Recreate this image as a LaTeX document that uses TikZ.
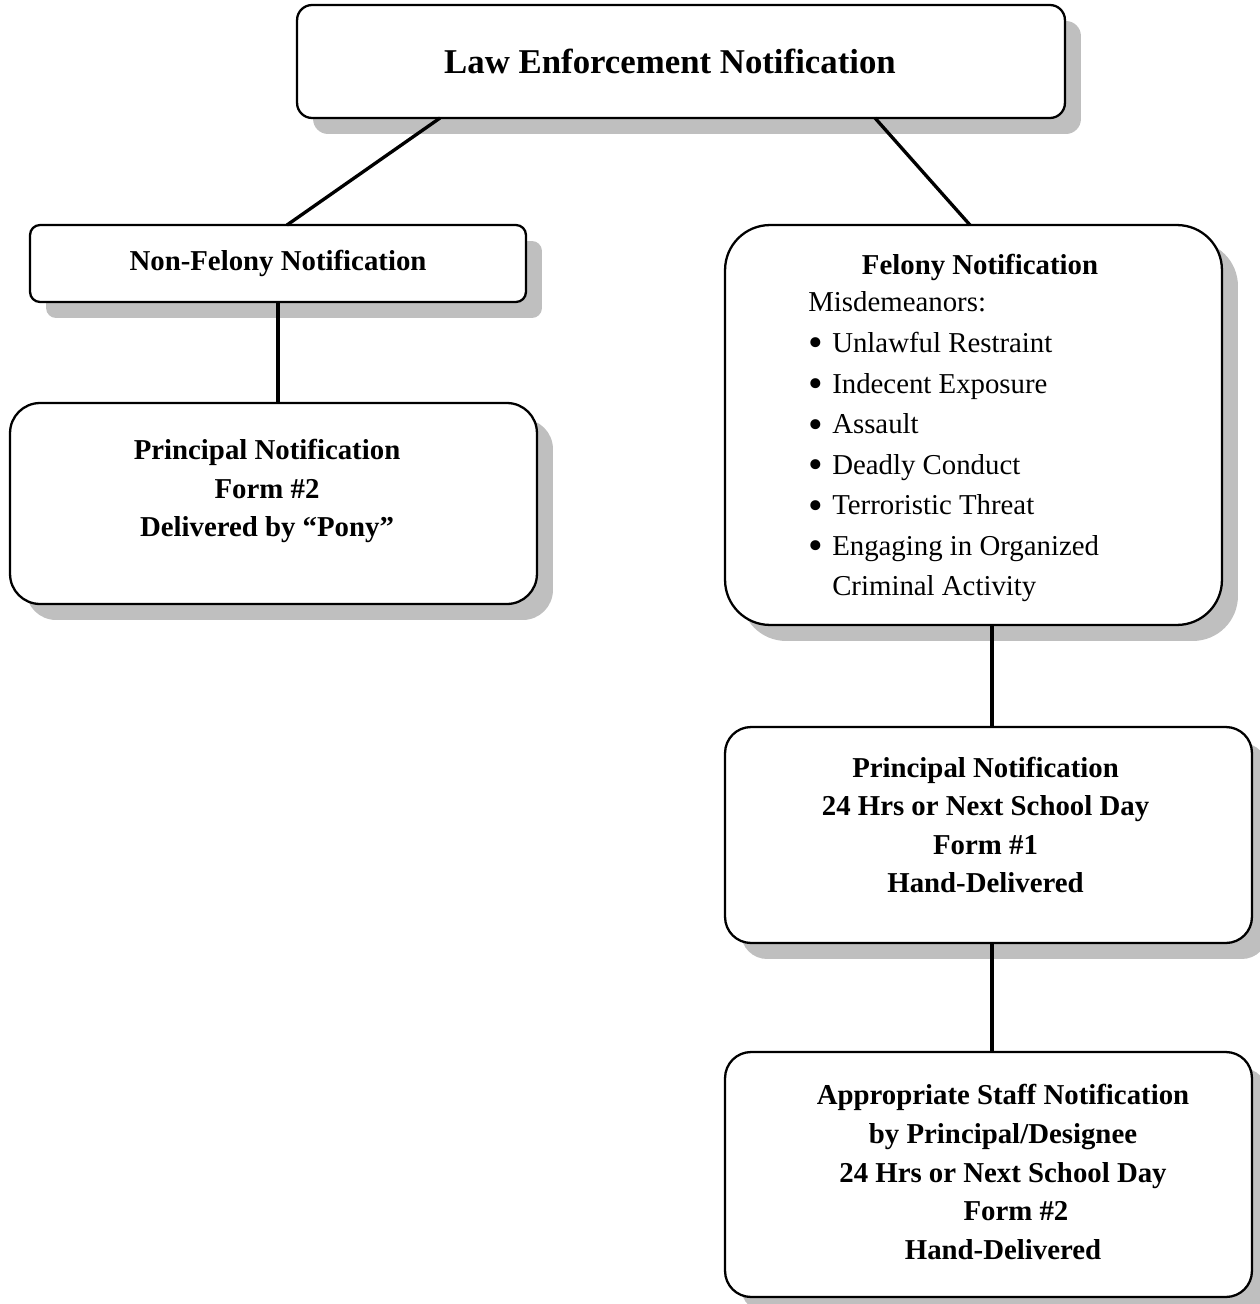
\documentclass[tikz,border=0pt]{standalone}
\usepackage{fontspec}
\setmainfont{Liberation Serif}
\usetikzlibrary{shadows}

\newcommand{\felbullet}{\makebox[13.6pt][l]{\raisebox{-2.6pt}{\scalebox{1.45}{•}}}}

\begin{document}
\begin{tikzpicture}[x=0.02cm, y=-0.02cm,
  notebox/.style={draw, line width=1.3pt, fill=white, inner sep=0pt, outer sep=0pt,
    rounded corners=#1,
    drop shadow={shadow xshift=0.32cm, shadow yshift=-0.32cm, fill=black!25, opacity=1}},
  link/.style={line width=1.9pt},
  boldtxt/.style={align=center, inner sep=0pt, font=\fontsize{16.4}{22}\selectfont\bfseries},
  plaintxt/.style={align=left, inner sep=0pt, font=\fontsize{16.4}{23.1}\selectfont}]
\useasboundingbox (0,0) rectangle (1259,1304);

% ---- top of the tree -----------------------------------------------------
\node[notebox=0.3cm, minimum width=15.36cm, minimum height=2.26cm] (law) at (681,61.5) {};
\node[inner sep=0pt, font=\fontsize{19.8}{24}\selectfont\bfseries] (lawtxt) at (670,61)
  {Law Enforcement Notification};

% ---- non-felony branch ---------------------------------------------------
\node[notebox=0.2cm, minimum width=9.92cm, minimum height=1.54cm,
      font=\fontsize{16.4}{22}\selectfont\bfseries] (nonfel) at (278,263.5)
  {Non-Felony Notification};
\node[notebox=0.6cm, minimum width=10.54cm, minimum height=4.02cm] (leftprin) at (273.5,503.5) {};
\node[boldtxt] (leftprintxt) at (267,491)
  {Principal Notification\\Form \#2\\Delivered by ``Pony''};

% ---- felony branch -------------------------------------------------------
\node[notebox=0.9cm, minimum width=9.94cm, minimum height=8cm] (fel) at (973.5,425) {};
\node[boldtxt] (feltitle) at (980,267) {Felony Notification};
\node[plaintxt, anchor=west] (fellist) at (808,447)
  {Misdemeanors:\\
   \felbullet Unlawful Restraint\\
   \felbullet Indecent Exposure\\
   \felbullet Assault\\
   \felbullet Deadly Conduct\\
   \felbullet Terroristic Threat\\
   \felbullet Engaging in Organized\\
   \hspace*{13.6pt}Criminal Activity};

\node[notebox=0.52cm, minimum width=10.54cm, minimum height=4.32cm] (rightprin) at (988.5,835) {};
\node[boldtxt] (rightprintxt) at (985.5,825)
  {Principal Notification\\24 Hrs or Next School Day\\Form \#1\\Hand-Delivered};

\node[notebox=0.52cm, minimum width=10.54cm, minimum height=4.9cm] (staff) at (988.5,1174.5) {};
\node[boldtxt] (stafftxt) at (1003,1172)
  {Appropriate Staff Notification\\by Principal/Designee\\24 Hrs or Next School Day\\
   \hspace*{14.7pt}Form \#2\\Hand-Delivered};

% ---- connectors ----------------------------------------------------------
\draw[link] ([xshift=-4.82cm]law.south) -- ([xshift=0.18cm]nonfel.north);
\draw[link] ([xshift=3.88cm]law.south) -- ([xshift=-0.07cm]fel.north);
\draw[link] (nonfel.south) -- (nonfel.south |- leftprin.north);
\draw[link] ([xshift=0.07cm]rightprin.north |- fel.south) -- ([xshift=0.07cm]rightprin.north);
\draw[link] ([xshift=0.07cm]rightprin.south) -- ([xshift=0.07cm]staff.north);
\end{tikzpicture}
\end{document}
